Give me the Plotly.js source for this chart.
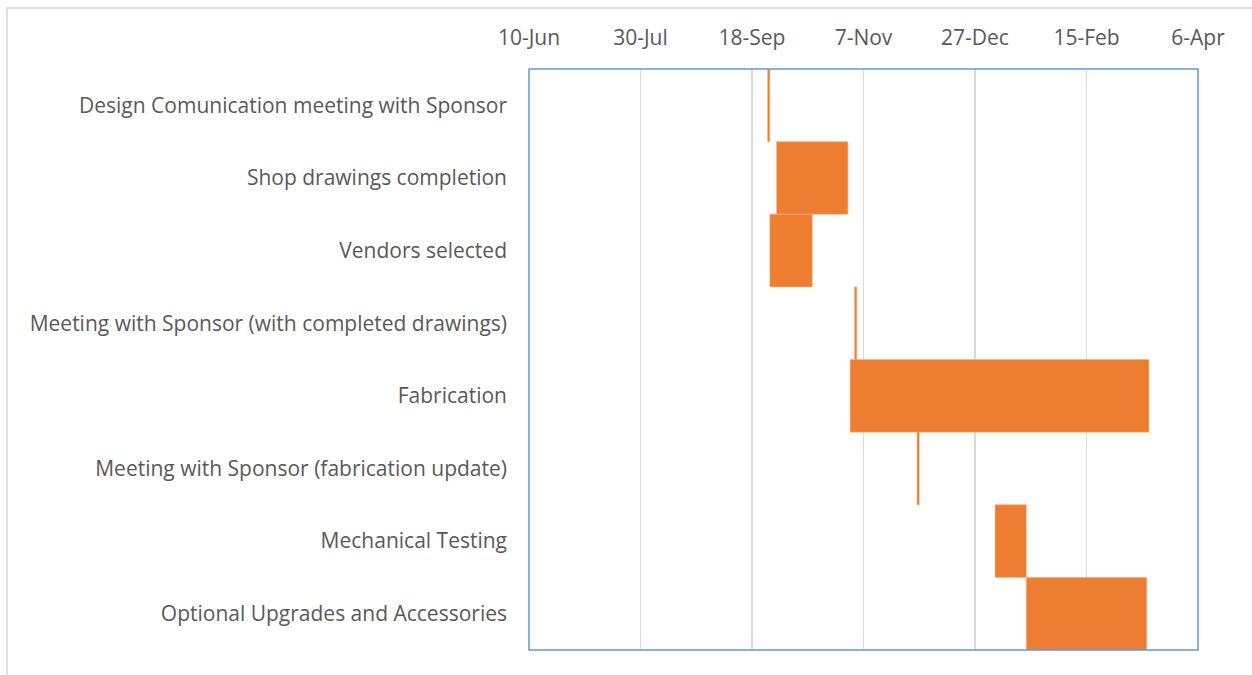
<!DOCTYPE html>
<html>
<head>
<meta charset="utf-8">
<script src="https://cdn.plot.ly/plotly-3.0.1.min.js"></script>
<style>html,body{margin:0;padding:0;background:#fff;}#chart{width:1252px;height:675px;}</style>
</head>
<body>
<div id="chart"></div>
<script>
const tasks = [
  "Design Comunication meeting with Sponsor",
  "Shop drawings completion",
  "Vendors selected",
  "Meeting with Sponsor (with completed drawings)",
  "Fabrication",
  "Meeting with Sponsor (fabrication update)",
  "Mechanical Testing",
  "Optional Upgrades and Accessories"
];
const startDates = [
  "2016-09-25", "2016-09-29", "2016-09-26", "2016-11-03",
  "2016-11-01", "2016-12-01", "2017-01-05", "2017-01-19"
];
const durationDays = [1, 32, 19, 1, 134, 1, 14, 54];
const tickStart = "2016-06-10";
const axisEnd = "2017-04-06";
const tickStepDays = 50;

const DAY = 86400000;
const px = (p) => (p - 529) / 669;
const py = (p) => (650 - p) / 581;

const trace = {
  type: 'bar',
  orientation: 'h',
  y: tasks,
  base: startDates,
  x: durationDays.map(d => d * DAY),
  marker: {color: '#ED7D31', line: {color: '#F4B183', width: 0.6}},
  hoverinfo: 'y',
  showlegend: false
};

const layout = {
  width: 1252, height: 675,
  margin: {l: 529, r: 54, t: 69, b: 25, pad: 0},
  paper_bgcolor: '#ffffff',
  plot_bgcolor: '#ffffff',
  bargap: 0,
  font: {family: '"Open Sans", "Noto Sans", sans-serif', color: '#595959', size: 21},
  xaxis: {
    type: 'date',
    side: 'top',
    range: [tickStart, axisEnd],
    tick0: tickStart,
    dtick: tickStepDays * DAY,
    tickformat: '%-d-%b',
    showgrid: true,
    gridcolor: '#D9D9D9',
    gridwidth: 1.5,
    zeroline: false,
    showline: false,
    ticks: '',
    ticklabelstandoff: 19,
    tickfont: {size: 21, color: '#595959'}
  },
  yaxis: {
    type: 'category',
    autorange: 'reversed',
    showgrid: false,
    zeroline: false,
    showline: false,
    ticks: '',
    ticklabelstandoff: 21,
    tickfont: {size: 21, color: '#595959'}
  },
  shapes: [
    {type: 'rect', xref: 'paper', yref: 'paper', x0: 0, x1: 1, y0: 0, y1: 1,
     line: {color: '#5B9BD5', width: 1.5}, fillcolor: 'rgba(0,0,0,0)', layer: 'above'},
    {type: 'rect', xref: 'paper', yref: 'paper', x0: px(7), x1: px(1300), y0: py(700), y1: py(8),
     line: {color: '#D9D9D9', width: 1.5}, fillcolor: 'rgba(0,0,0,0)', layer: 'below'}
  ]
};

Plotly.newPlot('chart', [trace], layout, {displayModeBar: false, staticPlot: true});
</script>
</body>
</html>
